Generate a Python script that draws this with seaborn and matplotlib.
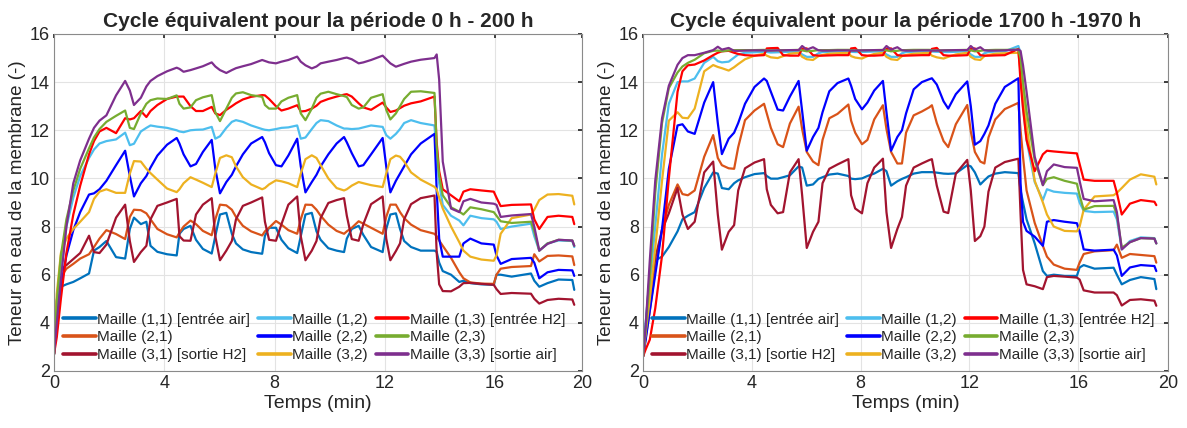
import matplotlib
matplotlib.use("Agg")
import matplotlib.pyplot as plt
import pandas as pd
import seaborn as sns

# ── Temps commun aux deux cycles (min) ──
temps = [0, 0.1, 0.25, 0.45, 0.7, 0.95, 1.27, 1.45, 1.65, 1.9,
         2.25, 2.58, 2.75, 2.9, 3.15, 3.35, 3.5, 3.75, 4.1, 4.45,
         4.55, 4.7, 4.95, 5.15, 5.4, 5.72, 5.85, 6.02, 6.25, 6.45,
         6.6, 6.85, 7.15, 7.55, 7.65, 7.8, 8.05, 8.25, 8.5, 8.82,
         8.95, 9.12, 9.35, 9.52, 9.67, 9.95, 10.25, 10.52, 10.62, 10.8,
         11.05, 11.22, 11.5, 11.92, 12.05, 12.2, 12.4, 12.55, 12.7, 12.95,
         13.3, 13.8, 13.88, 13.97, 14.1, 14.4, 14.7, 14.85, 15.1, 15.5,
         15.95, 16.05, 16.2, 16.6, 17.3, 17.42, 17.6, 17.9, 18.3, 18.8,
         18.87]

# ── Période 0 h - 200 h ──
m11_a = [2.7, 4.3, 5.5, 5.6, 5.7, 5.85, 6.05, 7.0, 7.15, 7.4,
         6.73, 6.67, 7.9, 8.37, 8.1, 8.2, 7.2, 6.95, 6.85, 6.8,
         7.7, 7.9, 8.03, 7.45, 7.07, 6.88, 7.6, 8.5, 8.57, 7.7,
         7.3, 7.05, 6.94, 6.87, 7.62, 7.95, 7.95, 7.45, 7.1, 6.9,
         7.6, 8.5, 8.57, 7.8, 7.45, 7.1, 7.0, 6.94, 7.5, 7.9,
         8.03, 7.65, 7.15, 6.94, 7.9, 8.5, 8.55, 7.9, 7.4, 7.15,
         7.0, 7.0, 6.95, 6.5, 6.15, 6.0, 5.7, 5.75, 5.65, 5.6,
         5.58, 6.0, 6.0, 5.92, 6.05, 5.75, 5.5, 5.65, 5.8, 5.78,
         5.37]
m21_a = [2.7, 4.6, 5.9, 6.25, 6.45, 6.67, 6.85, 7.15, 7.5, 7.85,
         7.69, 7.48, 8.4, 8.7, 8.68, 8.55, 8.3, 7.9, 7.68, 7.55,
         7.75, 8.0, 8.25, 8.1, 7.82, 7.64, 8.3, 8.91, 8.88, 8.7,
         8.4, 8.03, 7.8, 7.63, 7.8, 7.95, 8.23, 8.08, 7.85, 7.7,
         8.3, 8.91, 8.9, 8.7, 8.45, 8.08, 7.82, 7.7, 7.8, 7.95,
         8.22, 8.12, 7.95, 7.7, 8.4, 8.91, 8.91, 8.6, 8.35, 8.08,
         7.85, 7.7, 7.6, 7.42, 7.2, 6.7, 6.1, 5.85, 5.68, 5.63,
         5.62, 6.0, 6.25, 6.32, 6.36, 6.85, 6.55, 6.78, 6.8, 6.76,
         6.4]
m31_a = [2.7, 4.9, 6.2, 6.4, 6.65, 6.9, 7.62, 6.94, 6.9, 7.25,
         8.37, 8.91, 7.4, 6.53, 6.94, 7.2, 8.3, 8.86, 9.0, 9.15,
         7.6, 7.42, 7.41, 8.5, 8.91, 9.18, 7.6, 6.6, 7.0, 7.4,
         8.3, 8.86, 9.0, 9.21, 8.2, 7.45, 7.41, 8.1, 8.91, 9.25,
         7.6, 6.6, 7.0, 7.4, 8.35, 8.98, 9.1, 9.18, 8.45, 7.48,
         7.41, 8.1, 8.93, 9.25, 7.5, 6.6, 6.98, 7.3, 8.3, 8.93,
         9.18, 9.29, 6.9, 5.6, 5.32, 5.31, 5.5, 5.65, 5.66, 5.62,
         5.58, 5.4, 5.2, 5.24, 5.21, 5.0, 4.8, 4.95, 5.0, 4.97,
         4.75]
m12_a = [2.7, 4.5, 6.3, 8.0, 9.2, 10.1, 10.85, 11.2, 11.45, 11.55,
         11.62, 11.9, 11.38, 11.44, 11.95, 12.1, 12.2, 12.15, 12.1, 12.0,
         11.95, 11.92, 12.0, 12.02, 12.03, 12.14, 11.65, 11.75, 12.1, 12.35,
         12.42, 12.35, 12.2, 12.05, 12.02, 12.0, 12.05, 12.1, 12.12, 12.2,
         11.65, 11.7, 12.05, 12.3, 12.42, 12.38, 12.2, 12.07, 12.07, 12.05,
         12.07, 12.12, 12.2, 12.14, 11.8, 11.65, 11.85, 12.05, 12.3, 12.42,
         12.3, 12.2, 11.0, 9.8, 8.9, 8.45, 8.25, 8.05, 8.45, 8.35,
         8.3, 8.2, 7.9, 8.0, 8.12, 7.6, 7.0, 7.3, 7.42, 7.4,
         7.15]
m22_a = [2.7, 4.2, 5.5, 6.8, 7.85, 8.6, 9.33, 9.38, 9.55, 9.9,
         10.55, 11.15, 10.1, 9.25, 9.8, 10.1, 10.45, 10.95, 11.4, 11.68,
         11.45, 11.0, 10.5, 10.6, 11.1, 11.6, 10.4, 9.38, 9.85, 10.15,
         10.5, 11.0, 11.45, 11.72, 11.5, 11.05, 10.55, 10.5, 10.95, 11.65,
         10.5, 9.42, 9.85, 10.15, 10.5, 11.0, 11.45, 11.72, 11.5, 11.05,
         10.5, 10.55, 11.0, 11.68, 10.5, 9.42, 9.9, 10.2, 10.5, 11.0,
         11.45, 11.85, 9.5, 7.5, 6.75, 6.75, 6.75, 7.3, 7.5, 7.3,
         7.25, 6.8, 6.45, 6.65, 6.7, 6.5, 5.85, 6.1, 6.2, 6.18,
         5.95]
m32_a = [2.7, 5.2, 6.9, 7.5, 7.9, 8.2, 8.6, 9.15, 9.45, 9.55,
         9.4, 9.4, 10.2, 10.72, 10.7, 10.4, 10.22, 9.95, 9.58, 9.43,
         9.55, 9.8, 10.05, 9.95, 9.82, 9.64, 10.2, 10.85, 10.96, 10.88,
         10.5, 10.05, 9.75, 9.55, 9.6, 9.75, 9.92, 9.88, 9.8, 9.64,
         10.2, 10.8, 10.96, 10.85, 10.55, 10.0, 9.6, 9.5, 9.55, 9.7,
         9.85, 9.8, 9.72, 9.64, 10.2, 10.8, 10.95, 10.9, 10.7, 10.25,
         9.95, 9.65, 9.55, 9.2, 8.75, 8.0, 7.35, 7.0, 6.75, 6.63,
         6.58, 6.8, 7.7, 8.35, 8.5, 8.7, 9.1, 9.33, 9.35, 9.28,
         8.92]
m13_a = [2.7, 3.4, 5.0, 6.9, 8.5, 9.7, 11.0, 11.55, 11.95, 12.1,
         11.88, 12.5, 12.45, 12.5, 12.8, 12.55, 12.8, 13.05, 13.3, 13.4,
         13.4, 13.4, 13.0, 12.8, 12.8, 12.97, 12.7, 12.63, 12.85, 13.0,
         13.12, 13.28, 13.39, 13.46, 13.45, 13.3, 13.0, 12.82, 12.9, 13.04,
         12.78, 12.8, 12.9, 13.02, 13.18, 13.3, 13.4, 13.48, 13.5, 13.4,
         13.12, 12.95, 12.85, 13.15, 12.95, 12.76, 12.82, 12.92, 13.02, 13.12,
         13.2, 13.4, 11.5, 10.3, 9.55, 9.3, 9.05, 9.45, 9.55, 9.5,
         9.45, 9.2, 8.85, 8.9, 8.92, 8.3, 7.9, 8.4, 8.45, 8.4,
         8.1]
m23_a = [2.7, 4.9, 6.8, 8.3, 9.5, 10.4, 11.25, 11.7, 12.05, 12.35,
         12.6, 12.82, 12.1, 12.05, 12.7, 13.1, 13.25, 13.32, 13.3, 13.45,
         13.1, 12.9, 12.95, 13.25, 13.37, 13.46, 12.75, 12.38, 12.9, 13.35,
         13.53, 13.58, 13.46, 13.39, 13.05, 12.9, 12.9, 13.2, 13.35, 13.46,
         12.7, 12.42, 12.9, 13.35, 13.52, 13.6, 13.5, 13.42, 13.38, 13.05,
         12.9, 12.95, 13.35, 13.5, 12.85, 12.45, 12.7, 13.0, 13.3, 13.6,
         13.62, 13.55, 11.3, 10.1, 9.3, 8.8, 8.62, 8.5, 8.8, 8.72,
         8.6, 8.45, 8.22, 8.15, 8.2, 7.8, 7.0, 7.3, 7.45, 7.42,
         7.2]
m33_a = [2.7, 4.0, 5.8, 8.0, 9.8, 10.75, 11.65, 12.1, 12.4, 12.62,
         13.45, 14.05, 13.65, 13.05, 13.35, 13.82, 14.05, 14.25, 14.45, 14.6,
         14.55, 14.43, 14.5, 14.57, 14.66, 14.82, 14.65, 14.5, 14.38, 14.5,
         14.58, 14.66, 14.75, 14.92, 14.88, 14.82, 14.78, 14.85, 14.92, 15.06,
         14.85, 14.7, 14.57, 14.65, 14.78, 14.85, 14.92, 15.0, 15.02, 14.95,
         14.78, 14.82, 14.92, 15.1, 14.95, 14.78, 14.64, 14.7, 14.76, 14.85,
         14.93, 15.0, 15.15, 14.1, 10.7, 8.75, 8.6, 9.05, 9.15, 9.0,
         8.95, 8.9, 8.4, 8.46, 8.52, 8.0, 7.0, 7.28, 7.45, 7.42,
         7.2]

# ── Période 1700 h - 1970 h ──
m11_b = [2.6, 4.0, 6.0, 6.6, 6.75, 7.15, 7.8, 8.3, 8.45, 8.6,
         9.6, 10.25, 10.2, 9.6, 9.55, 9.8, 9.92, 10.05, 10.18, 10.22,
         10.1, 9.99, 9.99, 10.05, 10.13, 10.5, 10.45, 9.7, 9.75, 9.98,
         10.05, 10.16, 10.2, 10.1, 9.99, 9.97, 10.0, 10.1, 10.2, 10.4,
         10.3, 9.7, 9.88, 9.98, 10.05, 10.2, 10.26, 10.26, 10.26, 10.24,
         10.2, 10.19, 10.21, 10.55, 10.5, 10.25, 9.75, 9.92, 10.08, 10.2,
         10.26, 10.22, 9.5, 9.0, 8.3, 7.3, 6.15, 5.95, 6.0, 5.95,
         5.95, 6.3, 6.4, 6.25, 6.29, 6.0, 5.6, 5.78, 5.9, 5.82,
         5.4]
m21_b = [2.6, 3.4, 4.5, 6.2, 7.9, 8.9, 9.75, 9.35, 9.3, 9.5,
         10.9, 11.8, 10.85, 10.55, 10.42, 10.4, 11.3, 12.42, 12.82, 13.1,
         12.7, 12.1, 11.42, 11.3, 12.28, 12.98, 12.05, 11.1, 10.7, 10.55,
         11.6, 12.5, 12.68, 13.07, 12.4, 11.9, 11.42, 11.6, 12.45, 13.04,
         12.05, 11.1, 10.62, 10.62, 11.9, 12.62, 12.78, 12.95, 13.04, 12.3,
         11.55, 11.3, 12.25, 13.05, 11.95, 11.1, 10.7, 10.62, 11.7, 12.45,
         12.88, 13.14, 12.0, 10.9, 9.5, 8.15, 7.2, 6.75, 6.42, 6.25,
         6.2, 6.5, 6.86, 6.97, 7.02, 7.25, 6.7, 6.86, 6.82, 6.77,
         6.5]
m31_b = [2.6, 3.5, 5.1, 6.7, 7.85, 8.55, 9.6, 8.5, 7.9, 8.2,
         10.25, 10.7, 8.5, 7.04, 7.78, 8.06, 9.5, 10.42, 10.66, 10.8,
         9.55, 8.9, 8.55, 8.6, 10.25, 10.8, 9.3, 7.11, 7.78, 8.2,
         9.8, 10.4, 10.58, 10.8, 9.3, 8.75, 8.55, 9.8, 10.45, 10.82,
         8.6, 7.11, 7.9, 8.4, 9.7, 10.45, 10.62, 10.76, 10.8, 9.7,
         8.62, 8.56, 10.2, 10.77, 9.5, 7.4, 7.6, 8.0, 9.45, 10.45,
         10.68, 10.82, 8.5, 6.2, 5.6, 5.52, 5.4, 5.9, 5.95, 5.92,
         5.88, 5.8, 5.35, 5.26, 5.26, 5.15, 4.72, 4.95, 4.98, 4.92,
         4.71]
m12_b = [2.6, 3.8, 5.6, 8.0, 11.0, 13.1, 14.0, 14.03, 14.03, 14.15,
         14.8, 15.05, 14.87, 14.82, 14.85, 15.02, 15.15, 15.22, 15.24, 15.26,
         15.25, 15.23, 15.24, 15.25, 15.26, 15.26, 15.15, 15.05, 15.05, 15.2,
         15.25, 15.26, 15.27, 15.27, 15.26, 15.25, 15.25, 15.26, 15.27, 15.27,
         15.15, 15.05, 15.05, 15.2, 15.25, 15.26, 15.27, 15.27, 15.27, 15.26,
         15.25, 15.25, 15.26, 15.28, 15.15, 15.05, 15.05, 15.2, 15.25, 15.27,
         15.28, 15.5, 15.2, 13.0, 11.6, 9.85, 9.1, 9.55, 9.45, 9.4,
         9.37, 9.0, 8.65, 8.6, 8.62, 8.3, 7.05, 7.4, 7.55, 7.52,
         7.3]
m22_b = [2.6, 3.3, 4.5, 6.0, 7.9, 10.4, 12.2, 12.25, 11.95, 11.85,
         13.15, 14.0, 12.3, 11.01, 11.65, 11.9, 12.3, 13.1, 13.8, 14.15,
         14.05, 13.6, 12.86, 12.82, 13.4, 14.05, 12.8, 11.15, 11.72, 12.1,
         12.75, 13.62, 13.96, 14.15, 13.85, 13.3, 12.87, 13.15, 13.65, 14.05,
         12.75, 11.15, 11.72, 12.0, 12.7, 13.7, 14.0, 14.12, 14.16, 13.9,
         13.2, 12.9, 13.5, 14.03, 13.0, 11.4, 11.55, 11.85, 12.2, 13.1,
         13.8, 14.16, 9.8, 8.2, 7.82, 7.58, 7.2, 8.2, 8.27, 8.2,
         8.14, 7.8, 7.05, 7.0, 7.04, 6.8, 5.95, 6.3, 6.4, 6.36,
         6.15]
m32_b = [2.6, 3.6, 5.0, 7.1, 9.9, 12.4, 12.75, 12.52, 12.5, 12.9,
         14.45, 14.71, 14.63, 14.58, 14.48, 14.62, 14.75, 14.95, 15.1, 15.18,
         15.1, 15.03, 15.0, 15.08, 15.18, 15.22, 15.05, 14.95, 14.92, 15.08,
         15.13, 15.18, 15.2, 15.22, 15.08, 15.02, 14.98, 15.08, 15.17, 15.22,
         15.05, 14.95, 14.92, 15.08, 15.13, 15.18, 15.2, 15.22, 15.1, 15.03,
         14.98, 15.05, 15.15, 15.22, 15.05, 14.95, 14.92, 15.08, 15.13, 15.18,
         15.2, 15.22, 14.44, 13.6, 12.2, 9.9, 9.0, 8.5, 8.0, 7.82,
         7.8, 8.0, 8.7, 9.25, 9.3, 9.4, 9.6, 9.95, 10.17, 10.07,
         9.75]
m13_b = [2.6, 2.9, 3.3, 4.6, 6.8, 10.0, 13.6, 14.45, 14.7, 14.73,
         14.9, 15.12, 15.22, 15.28, 15.3, 15.22, 15.17, 15.12, 15.1, 15.12,
         15.4, 15.41, 15.42, 15.12, 15.1, 15.1, 15.38, 15.4, 15.12, 15.1,
         15.1, 15.11, 15.12, 15.12, 15.4, 15.42, 15.12, 15.1, 15.1, 15.12,
         15.38, 15.4, 15.12, 15.1, 15.1, 15.11, 15.12, 15.12, 15.38, 15.42,
         15.12, 15.1, 15.1, 15.12, 15.38, 15.4, 15.12, 15.1, 15.1, 15.11,
         15.12, 15.38, 14.0, 12.9, 11.6, 10.3, 11.0, 11.15, 11.12, 11.08,
         11.04, 10.6, 9.95, 9.9, 9.9, 9.4, 8.5, 8.95, 9.1, 9.03,
         8.89]
m23_b = [2.6, 3.7, 5.9, 9.4, 12.3, 13.75, 14.4, 14.65, 14.8, 14.93,
         15.2, 15.3, 15.31, 15.28, 15.32, 15.33, 15.33, 15.33, 15.33, 15.34,
         15.33, 15.32, 15.32, 15.33, 15.33, 15.34, 15.32, 15.28, 15.3, 15.33,
         15.33, 15.33, 15.34, 15.34, 15.33, 15.32, 15.32, 15.33, 15.33, 15.34,
         15.32, 15.28, 15.3, 15.33, 15.33, 15.34, 15.34, 15.34, 15.33, 15.32,
         15.32, 15.33, 15.33, 15.34, 15.32, 15.28, 15.3, 15.33, 15.33, 15.34,
         15.34, 15.35, 15.0, 14.0, 12.8, 10.75, 9.72, 9.98, 10.05, 9.9,
         9.78, 9.3, 8.7, 8.85, 8.86, 8.5, 7.12, 7.35, 7.52, 7.5,
         7.3]
m33_b = [2.6, 3.9, 6.6, 9.9, 12.5, 13.85, 14.72, 15.0, 15.12, 15.12,
         15.22, 15.33, 15.47, 15.35, 15.42, 15.3, 15.3, 15.31, 15.32, 15.32,
         15.31, 15.31, 15.32, 15.32, 15.33, 15.33, 15.5, 15.35, 15.45, 15.32,
         15.31, 15.31, 15.32, 15.32, 15.31, 15.31, 15.32, 15.32, 15.33, 15.33,
         15.5, 15.35, 15.45, 15.32, 15.31, 15.31, 15.32, 15.32, 15.31, 15.31,
         15.32, 15.32, 15.33, 15.33, 15.5, 15.35, 15.45, 15.32, 15.31, 15.31,
         15.32, 15.35, 15.3, 14.7, 13.6, 10.9, 9.72, 10.3, 10.58, 10.47,
         10.44, 9.9, 9.15, 9.05, 9.1, 8.6, 7.05, 7.35, 7.52, 7.5,
         7.3]

# ordre colonne par colonne pour la légende à 3 colonnes
mailles = ["Maille (1,1) [entrée air]", "Maille (2,1)", "Maille (3,1) [sortie H2]",
           "Maille (1,2)", "Maille (2,2)", "Maille (3,2)",
           "Maille (1,3) [entrée H2]", "Maille (2,3)", "Maille (3,3) [sortie air]"]
couleurs = ["#0072BD", "#D95319", "#A2142F",
            "#4DBEEE", "#0000FF", "#EDB120",
            "#FF0000", "#77AC30", "#7E2F8E"]

serie_a = [m11_a, m21_a, m31_a, m12_a, m22_a, m32_a, m13_a, m23_a, m33_a]
serie_b = [m11_b, m21_b, m31_b, m12_b, m22_b, m32_b, m13_b, m23_b, m33_b]

sns.set_theme(style="whitegrid")
plt.rcParams["font.family"] = ["Liberation Sans", "DejaVu Sans"]

fig = plt.figure(figsize=(11.87, 4.28), dpi=100)
ax_a = fig.add_axes([0.0455, 0.1332, 0.4448, 0.7874])
ax_b = fig.add_axes([0.5417, 0.1332, 0.4423, 0.7874])


def tracer(ax, series, titre, xmax):
    df = pd.concat([pd.DataFrame({"temps": temps, "teneur": v, "maille": m})
                    for m, v in zip(mailles, series)], ignore_index=True)
    sns.lineplot(data=df, x="temps", y="teneur", hue="maille", hue_order=mailles,
                 palette=couleurs, linewidth=1.6, estimator=None, sort=False, ax=ax)

    ax.set_xlim(0, xmax)
    ax.set_ylim(2, 16)
    # la graduation "20" est posée sur le bord droit, comme sur la figure d'origine
    ax.set_xticks([0, 4, 8, 12, 16, xmax])
    ax.set_xticklabels(["0", "4", "8", "12", "16", "20"])
    ax.set_yticks(range(2, 17, 2))
    ax.tick_params(axis="both", labelsize=13, direction="in", length=3,
                   top=True, right=True, colors="#262626", pad=3)
    ax.grid(True, color="#e3e3e3", linewidth=0.8)
    for sp in ax.spines.values():
        sp.set_visible(True)
        sp.set_color("#8a8a8a")
        sp.set_linewidth(0.8)

    ax.set_title(titre, fontsize=15, fontweight="bold", pad=5)
    ax.set_xlabel("Temps (min)", fontsize=14, labelpad=2)
    ax.set_ylabel("Teneur en eau de la membrane (-)", fontsize=13.5, labelpad=3)

    handles, labels = ax.get_legend_handles_labels()
    leg = ax.legend(handles, labels, ncol=3, loc="lower left", frameon=False,
                    fontsize=11, handlelength=2.15, handletextpad=0.1,
                    columnspacing=0.5, labelspacing=0.24, borderaxespad=0.38,
                    borderpad=0.2)
    for ln in leg.get_lines():
        ln.set_linewidth(2.6)


tracer(ax_a, serie_a, "Cycle équivalent pour la période 0 h - 200 h", 19.15)
tracer(ax_b, serie_b, "Cycle équivalent pour la période 1700 h -1970 h", 19.3)

fig.savefig("out.png", dpi=100)
